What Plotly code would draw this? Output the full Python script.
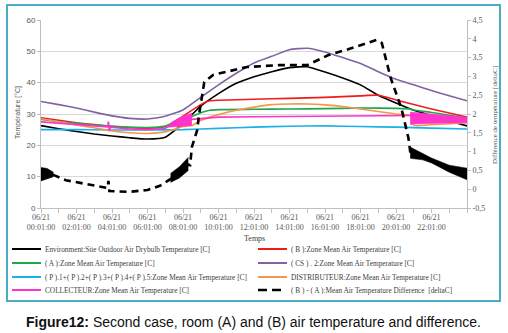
import plotly.graph_objects as go

# ---------------- data ----------------
tick_hours = [0, 2, 4, 6, 8, 10, 12, 14, 16, 18, 20, 22]
tick_labels = ["06/21<br>%02d:01:00" % h for h in tick_hours]

outdoor_h = [0,1,2,3,4,5,6,7,8,9,10,11,12,13,14,15,16,17,18,19,20,21,22,23,24]
outdoor_v = [26.3,25.3,24.4,23.6,23.0,22.4,22.0,22.6,27.0,32.5,36.5,39.8,41.9,43.5,44.8,45.1,43.4,41.5,39.3,36.0,33.5,31.2,29.5,27.8,26.2]

roomB_h = [0,1,2,3,4,5,6,7,8,9,9.5,10,12,14,16,18,19,20,21,22,23,24]
roomB_v = [28.8,28.0,27.2,26.6,26.1,25.6,25.4,26.0,29.3,33.0,34.2,34.4,34.7,35.0,35.3,35.8,36.0,34.5,33.0,31.6,30.3,29.0]

roomA_h = [0,1,2,3,4,5,6,7,8,9,9.5,10,12,14,16,18,20,20.8,21,22,23,24]
roomA_v = [28.3,27.6,27.0,26.5,26.1,25.8,25.7,26.2,28.0,30.4,31.2,31.4,31.5,31.6,31.7,31.9,31.8,31.6,31.3,30.5,29.6,28.7]

cs_h = [0,1,2,3,4,5,6,7,8,9,10,11,12,13,14,15,16,17,18,19,20,21,22,23,24]
cs_v = [34.0,33.0,31.9,30.6,29.4,28.6,28.4,29.3,31.3,35.3,39.3,43.0,46.3,48.4,50.5,51.0,49.8,48.0,46.1,43.5,41.1,39.3,37.5,35.8,34.2]

p_h = [0,2,4,6,8,10,12,14,16,18,20,22,24]
p_v = [25.0,25.0,24.9,24.9,25.0,25.4,25.8,26.1,26.2,26.0,25.8,25.5,25.2]

distrib_h = [0,1,2,3,4,5,6,7,8,8.5,9,10,11,12,13,14,15,16,17,18,19,20,20.8,21,22,23,24]
distrib_v = [28.5,27.5,26.5,25.6,24.6,24.0,23.8,24.3,26.0,26.3,28.0,29.8,31.2,32.2,33.0,33.2,33.2,32.9,32.4,31.6,30.8,30.0,29.6,26.4,26.6,26.9,27.2]

collect_h = [0,1,2,3,3.75,3.8,3.85,3.9,5,6,7,7.2,8.5,9,10,12,14,16,18,20,20.8]
collect_v = [27.5,27.0,26.6,26.2,25.9,27.6,24.5,25.8,25.2,25.0,25.5,26.0,28.3,28.6,29.0,29.1,29.2,29.2,29.3,29.4,29.5]
collect_band1_h = [7.2,7.4,8.0,8.5,8.5]
collect_band1_hi = [26.0,27.5,29.3,30.3,28.3]
collect_band1_lo = [25.8,25.9,26.2,26.3,26.3]
collect_band2_h = [20.8,21,22,23,24]
collect_band2_hi = [30.6,30.5,30.0,29.5,29.0]
collect_band2_lo = [26.6,26.8,27.0,27.1,27.2]

diff_h = [0,0.35,0.7,1.4,2.8,3.75,3.8,3.85,5.0,6.0,6.7,7.4,7.8,8.3,8.4,8.5,8.8,8.9,9.2,9.7,11.6,13.4,15.0,16.2,17.3,18.4,18.9,19.2,19.7,20.3,20.7,20.8,21.5,22,23,24]
diff_v = [0.40,0.40,0.38,0.24,0.11,0.03,0.22,-0.05,-0.07,-0.02,0.09,0.30,0.45,0.65,0.64,1.12,1.57,1.97,2.85,3.04,3.25,3.30,3.30,3.57,3.72,3.90,3.97,3.89,2.96,2.16,1.36,1.0,0.87,0.76,0.55,0.40]
diff_band_h = [[0,0.35,0.7],[7.3,7.8,8.3],[20.8,21.5,22,23,24]]
diff_band_hi = [[0.58,0.55,0.45],[0.42,0.6,0.85],[1.12,0.96,0.83,0.64,0.56]]
diff_band_lo = [[0.22,0.28,0.33],[0.18,0.3,0.5],[0.82,0.78,0.70,0.45,0.25]]

names = [
    "Environment:Site Outdoor Air Drybulb Temperature [C]",
    "( B ):Zone Mean Air Temperature [C]",
    "( A ):Zone Mean Air Temperature [C]",
    "( CS ) . 2:Zone Mean Air Temperature [C]",
    "( P ).1+( P ).2+( P ).3+( P ).4+( P ).5:Zone Mean Air Temperature [C]",
    "DISTRIBUTEUR:Zone Mean Air Temperature [C]",
    "COLLECTEUR:Zone Mean Air Temperature [C]",
    "( B ) - ( A ):Mean Air Temperature Difference  [deltaC]",
]
colors = ["#000000", "#f01c1c", "#1fa84a", "#8064a2", "#1ab0e8", "#f79646", "#ff33cc", "#000000"]

# ---------------- geometry helpers ----------------
W, H = 508, 333
L, R, T, B = 41, 467, 20, 208
def px(x):
    return (x - L) / (R - L)
def py(y):
    return (B - y) / (B - T)

fig = go.Figure()
def line(xs, ys, c, w=1.6, yaxis="y", dash=None):
    fig.add_trace(go.Scatter(x=xs, y=ys, mode="lines", yaxis=yaxis, showlegend=False,
                             line=dict(color=c, width=w, dash=dash, shape="spline", smoothing=0.5),
                             hoverinfo="skip"))
def band(xs, hi, lo, c, yaxis="y"):
    fig.add_trace(go.Scatter(x=xs, y=hi, mode="lines", yaxis=yaxis, showlegend=False,
                             line=dict(color=c, width=0.5), hoverinfo="skip"))
    fig.add_trace(go.Scatter(x=xs, y=lo, mode="lines", yaxis=yaxis, showlegend=False, fill="tonexty",
                             fillcolor=c, line=dict(color=c, width=0.5), hoverinfo="skip"))

line(outdoor_h, outdoor_v, colors[0])
line(roomB_h, roomB_v, colors[1])
line(roomA_h, roomA_v, colors[2])
line(cs_h, cs_v, colors[3])
line(p_h, p_v, colors[4])
line(distrib_h, distrib_v, colors[5])
fig.add_trace(go.Scatter(x=collect_h, y=collect_v, mode="lines", showlegend=False,
                         line=dict(color=colors[6], width=1.6), hoverinfo="skip"))
band(collect_band1_h, collect_band1_hi, collect_band1_lo, colors[6])
band(collect_band2_h, collect_band2_hi, collect_band2_lo, colors[6])
fig.add_trace(go.Scatter(x=diff_h, y=diff_v, mode="lines", yaxis="y2", showlegend=False,
                         line=dict(color="#000000", width=2.6, dash="7px,5px"), hoverinfo="skip"))
for bh, bhi, blo in zip(diff_band_h, diff_band_hi, diff_band_lo):
    band(bh, bhi, blo, "#000000", yaxis="y2")

axcol = "#bfbfbf"
tickc = "#595959"
fig.update_layout(
    width=W, height=H, margin=dict(l=L, r=W - R, t=T, b=H - B, autoexpand=False),
    paper_bgcolor="white", plot_bgcolor="white", showlegend=False,
    xaxis=dict(range=[0, 24], tickvals=tick_hours, ticktext=tick_labels, showgrid=False, zeroline=False,
               automargin=False, ticklabelstandoff=-3,
               showline=True, linecolor=axcol, linewidth=1, ticks="outside", ticklen=4, tickcolor=axcol,
               minor=dict(tickvals=list(range(25)), ticks="outside", ticklen=4, tickcolor=axcol),
               tickfont=dict(family="Liberation Serif", size=8, color=tickc)),
    yaxis=dict(range=[0, 60], dtick=10, showgrid=True, gridcolor="#d9d9d9", zeroline=False, automargin=False,
               showline=True, linecolor=axcol, ticks="outside", ticklen=3, tickcolor=axcol,
               tickfont=dict(family="Liberation Sans", size=8, color=tickc)),
    yaxis2=dict(range=[-0.5, 4.5], overlaying="y", side="right", showgrid=False, zeroline=False, automargin=False,
                tickvals=[-0.5,0,0.5,1,1.5,2,2.5,3,3.5,4,4.5],
                ticktext=["-0,5","0","0,5","1","1,5","2","2,5","3","3,5","4","4,5"],
                showline=True, linecolor=axcol, ticks="outside", ticklen=3, tickcolor=axcol,
                tickfont=dict(family="Liberation Serif", size=8, color=tickc)),
)

ann = []
shapes = []
def txt(s, x, y, size, family, color, angle=0, xanchor="center"):
    ann.append(dict(text=s, x=px(x), y=py(y), xref="paper", yref="paper", textangle=angle,
                    xanchor=xanchor, yanchor="middle", showarrow=False,
                    font=dict(family=family, size=size, color=color)))

# axis titles
txt("Température [°C]", 18, 113, 7, "Liberation Sans", tickc, angle=-90)
txt("Différence de température [deltaC]", 495, 115, 7, "Liberation Serif", tickc, angle=-90)
txt("Temps", 254, 238, 8, "Liberation Serif", "#404040")

# manual legend
rows = [249, 263, 277, 290]
cols = [(12, 41), (258, 287)]
for i, (nm, c) in enumerate(zip(names, colors)):
    r, k = divmod(i, 2)
    x0, x1 = cols[k]
    yy = rows[r]
    if i == 7:
        shapes.append(dict(type="line", xref="paper", yref="paper", x0=px(258), x1=px(267), y0=py(yy), y1=py(yy),
                           line=dict(color=c, width=2.5)))
        shapes.append(dict(type="line", xref="paper", yref="paper", x0=px(272), x1=px(281), y0=py(yy), y1=py(yy),
                           line=dict(color=c, width=2.5)))
        tx = 289
    else:
        shapes.append(dict(type="line", xref="paper", yref="paper", x0=px(x0), x1=px(x1), y0=py(yy), y1=py(yy),
                           line=dict(color=c, width=2)))
        tx = x1 + 2
    txt(nm, tx, yy, 7.3, "Liberation Serif", "#404040", xanchor="left")

# frame
shapes.append(dict(type="rect", xref="paper", yref="paper", x0=px(7), x1=px(500), y0=py(5), y1=py(301),
                   line=dict(color="#4bacc6", width=2), fillcolor="rgba(0,0,0,0)", layer="below"))
# caption
txt("<b>Figure12:</b> Second case, room (A) and (B) air temperature and difference.", 253, 322, 14,
    "Liberation Sans", "#111111")

fig.update_layout(annotations=ann, shapes=shapes)
fig.write_html("out.html", config={"displayModeBar": False},
               post_script="document.body.style.margin='0';document.body.style.padding='0';")
